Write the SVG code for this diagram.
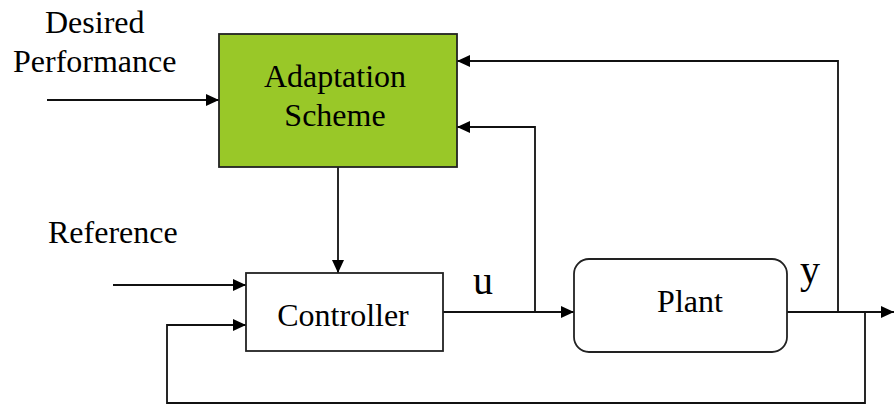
<svg xmlns="http://www.w3.org/2000/svg" width="894" height="404" viewBox="0 0 894 404">
  <style>
    .box { stroke: #222; stroke-width: 1.8; }
    .wire { fill: none; stroke: #111; stroke-width: 1.8; }
    .lbl { font-family: "Liberation Serif", "Times New Roman", serif; font-size: 32px; fill: #000; }
    .sym { font-size: 40px; }
  </style>
  <defs>
    <marker id="arr" viewBox="0 0 13 12" refX="13" refY="6" markerWidth="13" markerHeight="12" markerUnits="userSpaceOnUse" orient="auto">
      <path d="M0,0 L13,6 L0,12 Z" fill="#000"/>
    </marker>
  </defs>
  <rect width="894" height="404" fill="#fff"/>

  <g id="connectors">
    <!-- desired performance into adaptation -->
    <path class="wire" d="M47,100 H219" marker-end="url(#arr)"/>
    <!-- adaptation to controller -->
    <path class="wire" d="M338,167 V273" marker-end="url(#arr)"/>
    <!-- reference into controller -->
    <path class="wire" d="M113,285 H246" marker-end="url(#arr)"/>
    <!-- output feedback into controller -->
    <path class="wire" d="M865,312 V403 H167 V325 H246" marker-end="url(#arr)"/>
    <!-- controller output u to plant -->
    <path class="wire" d="M443,312 H574" marker-end="url(#arr)"/>
    <!-- u tap to adaptation -->
    <path class="wire" d="M535,312 V127 H457" marker-end="url(#arr)"/>
    <!-- plant output y -->
    <path class="wire" d="M787,312 H894" marker-end="url(#arr)"/>
    <!-- y tap to adaptation -->
    <path class="wire" d="M838,312 V61 H457" marker-end="url(#arr)"/>
  </g>

  <g id="adaptation">
    <rect class="box" x="219" y="34" width="238" height="133" fill="#99c828"/>
    <text class="lbl" x="335" y="87" text-anchor="middle">Adaptation</text>
    <text class="lbl" x="335" y="126" text-anchor="middle">Scheme</text>
  </g>

  <g id="controller">
    <rect class="box" x="246" y="273" width="197" height="78" fill="#fff"/>
    <text class="lbl" x="343" y="326" text-anchor="middle">Controller</text>
  </g>

  <g id="plant">
    <rect class="box" x="574" y="259" width="213" height="93" rx="15" fill="#fff"/>
    <text class="lbl" x="690" y="312" text-anchor="middle">Plant</text>
  </g>

  <g id="labels">
    <text class="lbl" x="45" y="33">Desired</text>
    <text class="lbl" x="13" y="72">Performance</text>
    <text class="lbl" x="48" y="243">Reference</text>
    <text class="lbl sym" x="473" y="294">u</text>
    <text class="lbl sym" x="800" y="283">y</text>
  </g>
</svg>
